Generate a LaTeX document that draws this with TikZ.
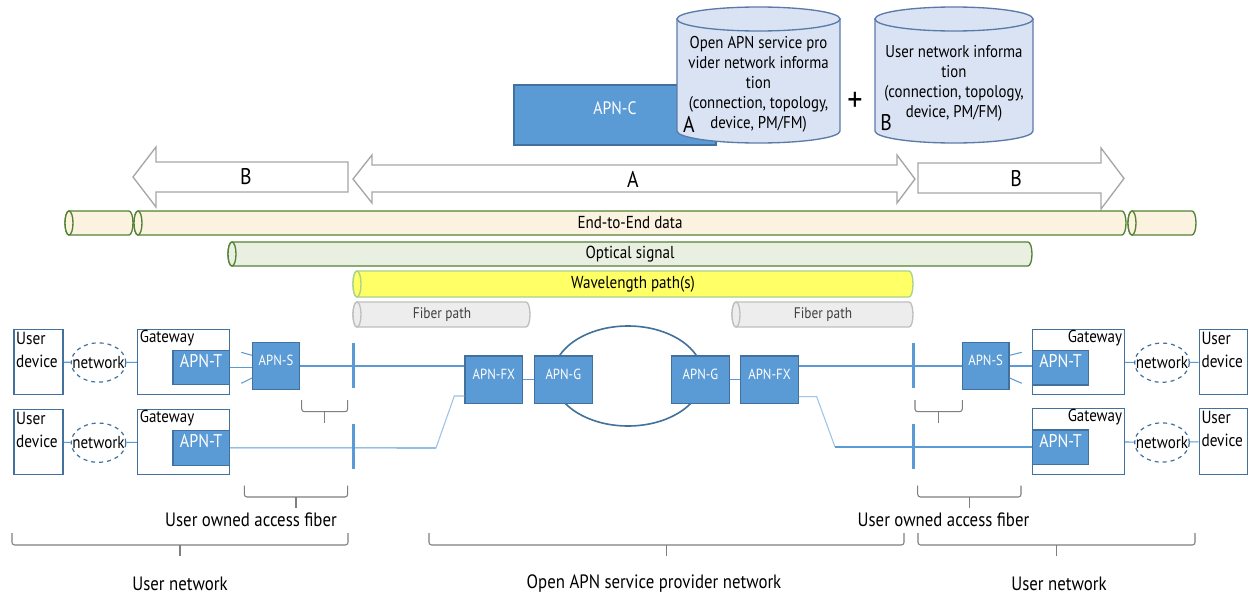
\documentclass[tikz,border=0pt]{standalone}
\usepackage{fontspec}
\setmainfont[FakeStretch=0.87]{PT Sans}
\usetikzlibrary{fit,shapes.geometric,calc}

\definecolor{apnfill}{HTML}{5B9BD5}
\definecolor{apnbord}{HTML}{41719C}
\definecolor{boxbord}{HTML}{41719C}
\definecolor{wire}{HTML}{5B9BD5}
\definecolor{wirelt}{HTML}{9DC3E6}
\definecolor{cylfill}{HTML}{DAE3F3}
\definecolor{cylbord}{HTML}{5A7BA8}
\definecolor{arrbord}{HTML}{A6A6A6}
\definecolor{e2efill}{HTML}{FBF2DF}
\definecolor{tubegreen}{HTML}{548235}
\definecolor{optfill}{HTML}{E9F0E1}
\definecolor{wlfill}{HTML}{FFFF66}
\definecolor{wlbord}{HTML}{A9D18E}
\definecolor{fpfill}{HTML}{EDEDED}
\definecolor{fpbord}{HTML}{BFBFBF}
\definecolor{bracecol}{HTML}{7F7F7F}

\tikzset{
  apnbox/.style={draw=apnbord, fill=apnfill, line width=1pt, inner sep=0pt, text=white},
  framebox/.style={draw=boxbord, line width=1.1pt, inner sep=0pt, fill=white},
  wireline/.style={draw=wire, line width=0.8pt},
  wirelight/.style={draw=wirelt, line width=0.8pt},
  fiberbar/.style={fill=wire, inner sep=0pt, minimum width=2.4pt, minimum height=33.75pt},
  netell/.style={ellipse, draw=boxbord, dashed, line width=0.9pt, inner sep=0pt, fill=white,
                 minimum width=41pt, minimum height=29.5pt},
  blockarrow/.style={draw=arrbord, fill=white, line width=1pt},
  bracket/.style={draw=bracecol, line width=0.8pt, rounded corners=2pt},
  cylstyle/.style={draw=cylbord, fill=cylfill, line width=1pt},
  lbl/.style={inner sep=0pt},
  e2etube/.style={draw=tubegreen, fill=e2efill, line width=1pt},
  opttube/.style={draw=tubegreen, fill=optfill, line width=1pt},
  wltube/.style={draw=wlbord, fill=wlfill, line width=1pt},
  fptube/.style={draw=fpbord, fill=fpfill, line width=1pt},
  devfont/.style={font=\fontsize{13.2}{17}\selectfont},
  gwfont/.style={font=\fontsize{12.9}{15}\selectfont},
  netfont/.style={font=\fontsize{13}{15}\selectfont},
  apntfont/.style={font=\fontsize{13.8}{16}\selectfont},
  apnsfont/.style={font=\fontsize{11}{13}\selectfont},
  tubefont/.style={font=\fontsize{13}{15}\selectfont},
  fpfont/.style={font=\fontsize{11.5}{13}\selectfont},
  dbfont/.style={font=\fontsize{12.8}{15}\selectfont},
  letterfont/.style={font=\fontsize{17}{17}\selectfont},
  bottomfont/.style={font=\fontsize{14.5}{16}\selectfont},
}

\newcommand{\tubeshape}[5]{%
  \pgfmathsetmacro{\tubL}{#1+4}\pgfmathsetmacro{\tubR}{#2-4}%
  \pgfmathsetmacro{\tubC}{(#3+#4)/2}\pgfmathsetmacro{\tubQ}{(#4-#3)/2}%
  \filldraw[#5] (\tubL,#3) -- (\tubR,#3) arc[start angle=-90,end angle=90,x radius=4,y radius=\tubQ]
     -- (\tubL,#4) arc[start angle=90,end angle=270,x radius=4,y radius=\tubQ] -- cycle;
  \filldraw[#5] (\tubL,\tubC) ellipse[x radius=4,y radius=\tubQ];}

\newcommand{\bracketshape}[5]{%
  \draw[bracket] (#1,#3) -- (#1,#4) -- (#2,#4) -- (#2,#3);
  \draw[bracket] ({(#1+#2)/2},#4) -- ({(#1+#2)/2},#5);}

\begin{document}
\begin{tikzpicture}[x=0.75pt,y=-0.75pt]
\fill[white] (0,0) rectangle (1250,596);
\useasboundingbox (0,0) rectangle (1250,596);

% ---------- top: APN-C and databases ----------
\node[apnbox, fit={(514,85) (716,145)}, font=\fontsize{13.5}{15}\selectfont] (apnc) {APN-C};

\filldraw[cylstyle] (677,19) -- (677,131) arc[start angle=180,end angle=0,x radius=81.5,y radius=12] -- (840,19) -- cycle;
\filldraw[cylstyle] (758.5,19) ellipse[x radius=81.5,y radius=12];
\node[lbl, align=center, dbfont] (db1) at (758.5,84)
  {Open APN service pro\\vider network informa\\tion\\(connection, topology,\\device, PM/FM)};
\node[lbl, letterfont] (db1A) at (689,124) {A};

\node[lbl, font=\fontsize{26}{26}\selectfont] (plus) at (855,102) {+};

\filldraw[cylstyle] (875,19) -- (875,131) arc[start angle=180,end angle=0,x radius=79,y radius=12] -- (1033,19) -- cycle;
\filldraw[cylstyle] (954,19) ellipse[x radius=79,y radius=12];
\node[lbl, align=center, dbfont] (db2) at (954,83)
  {User network informa\\tion\\(connection, topology,\\device, PM/FM)};
\node[lbl, letterfont] (db2B) at (886,123) {B};

% ---------- block arrows ----------
\filldraw[blockarrow] (133,177) -- (156,147) -- (156,162) -- (348,162) -- (348,192) -- (156,192) -- (156,207) -- cycle;
\node[lbl, letterfont] (arrB1) at (246,177) {B};
\filldraw[blockarrow] (353,179) -- (372,155) -- (372,165) -- (897,165) -- (897,155) -- (915,179)
   -- (897,203) -- (897,192) -- (372,192) -- (372,203) -- cycle;
\node[lbl, letterfont] (arrA) at (633,179) {A};
\filldraw[blockarrow] (918,163) -- (1101,163) -- (1101,148) -- (1124,178.5) -- (1101,209) -- (1101,193) -- (918,193) -- cycle;
\node[lbl, letterfont] (arrB2) at (1016,179) {B};

% ---------- layer tubes ----------
\tubeshape{65}{133}{211}{235}{e2etube}
\tubeshape{134}{1126}{211}{235}{e2etube}
\tubeshape{1128}{1196}{211}{235}{e2etube}
\node[lbl, tubefont] (e2e) at (630,223) {End-to-End data};
\tubeshape{228}{1032}{242}{266}{opttube}
\node[lbl, tubefont] (opt) at (630,254) {Optical signal};
\tubeshape{353}{913}{271}{297}{wltube}
\node[lbl, tubefont] (wl) at (633,284) {Wavelength path(s)};
\tubeshape{353}{530}{302}{327}{fptube}
\node[lbl, fpfont, text=black!75] (fp1) at (442,315) {Fiber path};
\tubeshape{732}{913}{302}{327}{fptube}
\node[lbl, fpfont, text=black!75] (fp2) at (823,315) {Fiber path};

% ---------- ring ----------
\node[ellipse, draw=apnbord, line width=1.2pt, minimum width=112.5pt, minimum height=75pt, inner sep=0pt] (ring) at (628,376) {};

% ---------- left users ----------
\node[framebox, fit={(14,329.3) (63,394.7)}] (ud1) {};
\node[lbl, anchor=north west, align=left, devfont] (ud1t) at ([xshift=2pt,yshift=-2.5pt]ud1.north west) {User\\device};
\node[netell] (net1) at (98.5,362.5) {};
\node[lbl, netfont] (net1t) at (net1) {network};
\node[framebox, fit={(137.7,329.3) (229.3,394.7)}] (gw1) {};
\node[lbl, anchor=north west, gwfont] (gw1t) at ([xshift=2pt,yshift=-1pt]gw1.north west) {Gateway};
\node[apnbox, fit={(173,350.7) (229.3,384.3)}, apntfont] (apnT1) {APN-T};
\node[apnbox, fit={(252.7,342.7) (299.3,389.3)}, apnsfont] (apnS1) {APN-S};

\node[framebox, fit={(14,409.3) (63,474.7)}] (ud2) {};
\node[lbl, anchor=north west, align=left, devfont] (ud2t) at ([xshift=2pt,yshift=-2.5pt]ud2.north west) {User\\device};
\node[netell] (net2) at (98.5,442.7) {};
\node[lbl, netfont] (net2t) at (net2) {network};
\node[framebox, fit={(137.7,409.3) (229.3,474.7)}] (gw2) {};
\node[lbl, anchor=north west, gwfont] (gw2t) at ([xshift=2pt,yshift=-1pt]gw2.north west) {Gateway};
\node[apnbox, fit={(173,430.3) (229.3,465.3)}, apntfont] (apnT2) {APN-T};

% ---------- core ----------
\node[apnbox, fit={(465,356) (522.7,403.3)}, apnsfont] (apnFX1) {APN-FX};
\node[apnbox, fit={(534.3,356) (592.3,403.3)}, apnsfont] (apnG1) {APN-G};
\node[apnbox, fit={(671.7,356) (729.3,403.3)}, apnsfont] (apnG2) {APN-G};
\node[apnbox, fit={(740.7,356) (798.3,403.3)}, apnsfont] (apnFX2) {APN-FX};

% ---------- right users ----------
\node[apnbox, fit={(962.3,342.7) (1009,389.3)}, apnsfont] (apnS2) {APN-S};
\node[framebox, fit={(1032.3,329.3) (1124.3,394.7)}] (gw3) {};
\node[lbl, anchor=north east, gwfont] (gw3t) at ([xshift=-2pt,yshift=-1pt]gw3.north east) {Gateway};
\node[apnbox, fit={(1032.3,350.7) (1088.7,385)}, apntfont] (apnT3) {APN-T};
\node[netell] (net3) at (1162,362.7) {};
\node[lbl, netfont] (net3t) at (net3) {network};
\node[framebox, fit={(1199.3,329.3) (1247.3,394.7)}] (ud3) {};
\node[lbl, anchor=north west, align=left, devfont] (ud3t) at ([xshift=2pt,yshift=-2.5pt]ud3.north west) {User\\device};

\node[framebox, fit={(1032.3,408.3) (1124.3,474.3)}] (gw4) {};
\node[lbl, anchor=north east, gwfont] (gw4t) at ([xshift=-2pt,yshift=-1pt]gw4.north east) {Gateway};
\node[apnbox, fit={(1032.3,430) (1088.7,464.3)}, apntfont] (apnT4) {APN-T};
\node[netell] (net4) at (1162,442.5) {};
\node[lbl, netfont] (net4t) at (net4) {network};
\node[framebox, fit={(1199.3,408.3) (1247.3,474.3)}] (ud4) {};
\node[lbl, anchor=north west, align=left, devfont] (ud4t) at ([xshift=2pt,yshift=-2.5pt]ud4.north west) {User\\device};

% ---------- connectors ----------
\coordinate (s1a) at (241.3,352.3);
\coordinate (s1b) at (241.3,383.3);
\coordinate (s2a) at (1021.7,352.3);
\coordinate (s2b) at (1021.7,383.3);
\coordinate (d1a) at (436,448);
\coordinate (d1b) at (454.3,396);
\coordinate (d2a) at (816.7,396.7);
\coordinate (d2b) at (835,447);

\draw[wireline] (ud1) -- (net1);
\draw[wireline] (net1) -- (gw1);
\draw[wireline] (ud2) -- (net2);
\draw[wireline] (net2) -- (gw2);
\draw[wireline] (gw3) -- (net3);
\draw[wireline] (net3) -- (ud3);
\draw[wireline] (gw4) -- (net4);
\draw[wireline] (net4) -- (ud4);

\draw[wireline] (apnT1.east) -- (apnT1.east -| apnS1.west);
\draw[wireline] (s1a) -- ([yshift=8pt]apnS1.west);
\draw[wireline] (s1b) -- ([yshift=-9pt]apnS1.west);
\draw[wireline] (apnS1.east) -- (apnS1.east -| apnFX1.west);
\draw[wireline] (apnT2.east) -- (d1a);
\draw[wirelight] (d1a) -- (d1b) -- (d1b -| apnFX1.west);

\draw[wireline] (apnFX1) -- (apnG1);
\draw[wireline] (apnG2) -- (apnFX2);

\draw[wireline] (apnS2.west -| apnFX2.east) -- (apnS2.west);
\draw[wireline] (apnS2.east) -- (apnS2.east -| apnT3.west);
\draw[wireline] (s2a) -- ([yshift=8pt]apnS2.east);
\draw[wireline] (s2b) -- ([yshift=-9pt]apnS2.east);
\draw[wirelight] (d2a -| apnFX2.east) -- (d2a) -- (d2b);
\draw[wireline] (d2b) -- (d2b -| apnT4.west);

% ---------- fiber bars ----------
\node[fiberbar] (bar1) at (353.3,365.2) {};
\node[fiberbar] (bar2) at (353.3,446.7) {};
\node[fiberbar] (bar3) at (913.3,365.2) {};
\node[fiberbar] (bar4) at (913.3,446.7) {};

% ---------- brackets ----------
\bracketshape{301.7}{347.7}{400}{411.7}{423}
\bracketshape{915}{962.3}{400}{411.7}{423}
\bracketshape{244.3}{347.7}{485.7}{497}{508.3}
\bracketshape{917.7}{1021}{485.7}{497}{508.3}
\node[lbl, bottomfont] (uaf1) at (251,520) {User owned access fiber};
\node[lbl, bottomfont] (uaf2) at (943.5,520) {User owned access fiber};

\bracketshape{12}{348}{533}{545}{556}
\bracketshape{429}{904}{533}{545}{556}
\bracketshape{918}{1195}{533}{545}{556}
\node[lbl, bottomfont] (un1) at (180,584) {User network};
\node[lbl, bottomfont] (osp) at (654,584) {Open APN service provider network};
\node[lbl, bottomfont] (un2) at (1059,584) {User network};
\end{tikzpicture}
\end{document}
